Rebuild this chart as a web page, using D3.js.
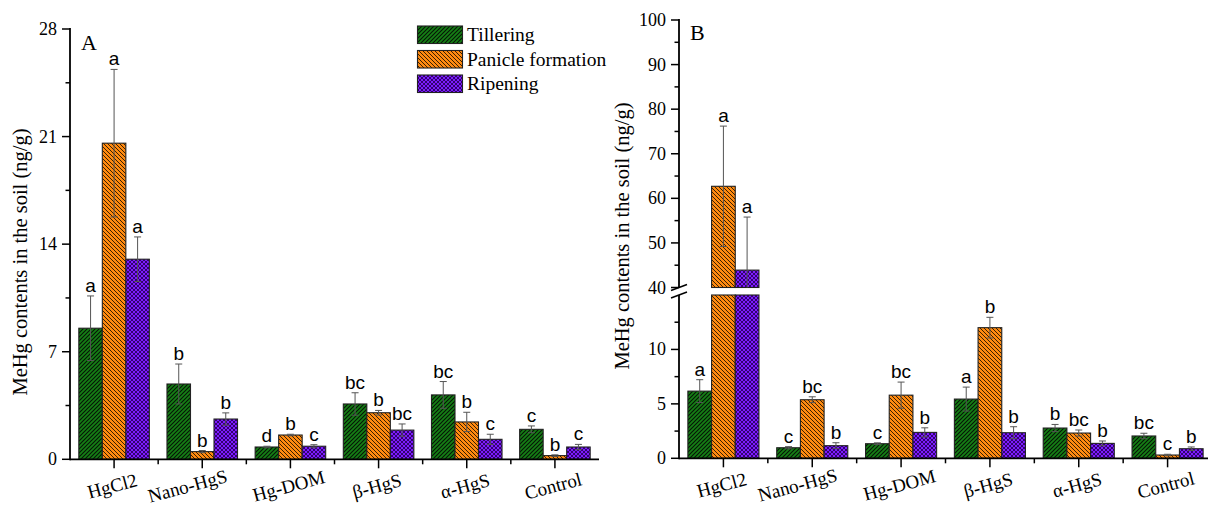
<!DOCTYPE html>
<html><head><meta charset="utf-8">
<script src="https://cdn.jsdelivr.net/npm/d3@7"></script>
<style>
body{margin:0;background:#fff;}
svg{display:block;}
.serif{font-family:"Liberation Serif","Times New Roman",serif;}
.sans{font-family:"Liberation Sans",Arial,sans-serif;}
</style></head>
<body><svg id="c" width="1208" height="507"></svg>
<script>
const categories = ["HgCl2","Nano-HgS","Hg-DOM","β-HgS","α-HgS","Control"];
const seriesNames = ["Tillering","Panicle formation","Ripening"];

// Panel A values (ng/g)
const aTillering = [8.53, 4.9, 0.8, 3.6, 4.19, 1.95];
const aPanicle   = [20.57, 0.5, 1.58, 3.03, 2.43, 0.24];
const aRipening  = [13.02, 2.62, 0.85, 1.9, 1.3, 0.8];
const aTilleringErr = [2.1, 1.3, 0.05, 0.73, 0.87, 0.22];
const aPanicleErr   = [4.8, 0.07, 0.05, 0.15, 0.63, 0.05];
const aRipeningErr  = [1.45, 0.4, 0.1, 0.4, 0.33, 0.17];
const aTilleringLet = ["a","b","d","bc","bc","c"];
const aPanicleLet   = ["a","b","b","b","b","b"];
const aRipeningLet  = ["a","b","c","bc","c","c"];

// Panel B values (ng/g)
const bTillering = [6.17, 0.97, 1.34, 5.44, 2.78, 2.05];
const bPanicle   = [62.7, 5.38, 5.8, 12.0, 2.32, 0.3];
const bRipening  = [43.9, 1.16, 2.38, 2.35, 1.37, 0.88];
const bTilleringErr = [1.05, 0.1, 0.08, 1.1, 0.33, 0.25];
const bPanicleErr   = [13.5, 0.27, 1.2, 0.95, 0.28, 0.07];
const bRipeningErr  = [11.9, 0.27, 0.42, 0.55, 0.22, 0.16];
const bTilleringLet = ["a","c","c","a","b","bc"];
const bPanicleLet   = ["a","bc","bc","b","bc","c"];
const bRipeningLet  = ["a","b","b","b","b","b"];

const aMajorTicks = [0,7,14,21,28];
const aMinorTicks = [3.5,10.5,17.5,24.5];
const bLowMajor = [0,5,10];
const bLowMinor = [2.5,7.5,12.5];
const bUpMajor = [40,50,60,70,80,90,100];
const bUpMinor = [45,55,65,75,85,95];

const svg = d3.select("#c");
const defs = svg.append("defs");
// patterns
const pG = defs.append("pattern").attr("id","pG").attr("patternUnits","userSpaceOnUse").attr("width",4).attr("height",4);
pG.append("rect").attr("width",4).attr("height",4).attr("fill","#158015");
pG.append("path").attr("d","M-1,1 l2,-2 M0,4 l4,-4 M3,5 l2,-2").attr("stroke","#051505").attr("stroke-width",1.15);
const pO = defs.append("pattern").attr("id","pO").attr("patternUnits","userSpaceOnUse").attr("width",4).attr("height",4);
pO.append("rect").attr("width",4).attr("height",4).attr("fill","#ff8a10");
pO.append("path").attr("d","M-1,3 l2,2 M0,0 l4,4 M3,-1 l2,2").attr("stroke","#3a2000").attr("stroke-width",1);
const pP = defs.append("pattern").attr("id","pP").attr("patternUnits","userSpaceOnUse").attr("width",4).attr("height",4);
pP.append("rect").attr("width",4).attr("height",4).attr("fill","#7d1cff");
pP.append("path").attr("d","M0,0 l4,4 M4,0 l-4,4").attr("stroke","#2a0060").attr("stroke-width",0.9);
const fills = ["url(#pG)","url(#pO)","url(#pP)"];

function drawPanel(opts){
  const g = svg.append("g");
  const x = d3.scaleBand().domain(categories).range([opts.x0, opts.x1]).paddingInner(0).paddingOuter(0);
  const inner = d3.scaleBand().domain(seriesNames).range([0, x.bandwidth()*0.8]);
  const off = x.bandwidth()*0.1;
  const vals = opts.values, errs = opts.errs, lets = opts.letters;
  const yBase = opts.yLow(0);
  // bars
  seriesNames.forEach((s,si)=>{
    categories.forEach((c,ci)=>{
      const v = vals[si][ci];
      const bx = x(c)+off+inner(s), bw = inner.bandwidth();
      if(opts.yUp && v > opts.lowMax){
        g.append("rect").attr("x",bx).attr("y",opts.yLow(opts.lowMax)).attr("width",bw).attr("height",yBase-opts.yLow(opts.lowMax))
          .attr("fill",fills[si]).attr("stroke","#222").attr("stroke-width",1.1);
        g.append("rect").attr("x",bx).attr("y",opts.yUp(v)).attr("width",bw).attr("height",opts.yUp(opts.upMin)-opts.yUp(v))
          .attr("fill",fills[si]).attr("stroke","#222").attr("stroke-width",1.1);
      } else {
        g.append("rect").attr("x",bx).attr("y",opts.yLow(v)).attr("width",bw).attr("height",yBase-opts.yLow(v))
          .attr("fill",fills[si]).attr("stroke","#222").attr("stroke-width",1.1);
      }
    });
  });
  // error bars & letters
  const yv = v => (opts.yUp && v > opts.lowMax) ? opts.yUp(Math.max(v,opts.upMin)) : opts.yLow(v);
  seriesNames.forEach((s,si)=>{
    categories.forEach((c,ci)=>{
      const v = vals[si][ci], e = errs[si][ci];
      const cx = x(c)+off+inner(s)+inner.bandwidth()/2;
      let hi = v+e, lo = v-e;
      let yHi = yv(hi), yLo;
      if(opts.yUp && v > opts.lowMax){ yLo = opts.yUp(Math.max(lo, opts.upMin)); }
      else yLo = opts.yLow(lo);
      g.append("line").attr("x1",cx).attr("x2",cx).attr("y1",yHi).attr("y2",yLo).attr("stroke","#555").attr("stroke-width",1);
      g.append("line").attr("x1",cx-3.5).attr("x2",cx+3.5).attr("y1",yHi).attr("y2",yHi).attr("stroke","#555").attr("stroke-width",1);
      if(!(opts.yUp && v > opts.lowMax && lo < opts.upMin))
        g.append("line").attr("x1",cx-3.5).attr("x2",cx+3.5).attr("y1",yLo).attr("y2",yLo).attr("stroke","#555").attr("stroke-width",1);
      g.append("text").attr("class","sans").attr("x",cx).attr("y",Math.min(yHi, yv(v))-4)
        .attr("text-anchor","middle").attr("font-size",19).attr("fill","#000").text(lets[si][ci]);
    });
  });
  // x axis
  const xa = g.append("g");
  xa.append("line").attr("x1",opts.x0).attr("x2",opts.x1).attr("y1",yBase).attr("y2",yBase).attr("stroke","#000").attr("stroke-width",1.8);
  categories.forEach((c,i)=>{
    const cx = x(c)+x.bandwidth()/2;
    xa.append("line").attr("x1",cx).attr("x2",cx).attr("y1",yBase).attr("y2",yBase+9).attr("stroke","#000").attr("stroke-width",1.5);
    if(i>0) xa.append("line").attr("x1",x(c)).attr("x2",x(c)).attr("y1",yBase).attr("y2",yBase+5).attr("stroke","#000").attr("stroke-width",1.5);
    const dx = c==="Nano-HgS" ? -13 : 0;
    xa.append("text").attr("class","serif").attr("font-size",19).attr("text-anchor","middle")
      .attr("transform",`translate(${cx+dx},${yBase+33}) rotate(-15)`).text(c);
  });
  // y axis
  const ya = g.append("g");
  function ySeg(scale, major, minor, yTop, yBot){
    ya.append("line").attr("x1",opts.x0).attr("x2",opts.x0).attr("y1",yTop).attr("y2",yBot).attr("stroke","#000").attr("stroke-width",1.8);
    major.forEach(t=>{
      ya.append("line").attr("x1",opts.x0-8).attr("x2",opts.x0).attr("y1",scale(t)).attr("y2",scale(t)).attr("stroke","#000").attr("stroke-width",1.5);
      ya.append("text").attr("class","serif").attr("font-size",18).attr("text-anchor","end").attr("x",opts.x0-13).attr("y",scale(t)+6).text(t);
    });
    minor.forEach(t=>{
      ya.append("line").attr("x1",opts.x0-4.5).attr("x2",opts.x0).attr("y1",scale(t)).attr("y2",scale(t)).attr("stroke","#000").attr("stroke-width",1.5);
    });
  }
  if(opts.yUp){
    ySeg(opts.yLow, opts.lowMajor, opts.lowMinor, opts.yLow(opts.lowMax), yBase+0.9);
    ySeg(opts.yUp, opts.upMajor, opts.upMinor, opts.yUp(opts.upMax)-0.9, opts.yUp(opts.upMin));
    const yb1 = opts.yUp(opts.upMin), yb2 = opts.yLow(opts.lowMax);
    [yb1, yb2].forEach(yy=>{
      ya.append("line").attr("x1",opts.x0-8).attr("x2",opts.x0+8).attr("y1",yy+3).attr("y2",yy-3).attr("stroke","#000").attr("stroke-width",1.6);
    });
  } else {
    ySeg(opts.yLow, opts.lowMajor, opts.lowMinor, opts.yLow(opts.lowMax)-0.9, yBase+0.9);
  }
  g.append("text").attr("class","serif").attr("font-size",20.5).attr("text-anchor","middle")
    .attr("transform",`translate(${opts.titleX},${opts.titleY}) rotate(-90)`).text("MeHg contents in the soil (ng/g)");
  g.append("text").attr("class","serif").attr("font-size",22).attr("x",opts.x0+11).attr("y",opts.labelY).text(opts.label);
}

drawPanel({
  x0:70, x1:599,
  yLow: d3.scaleLinear().domain([0,28]).range([459.3,29]),
  lowMax:28, lowMajor:aMajorTicks, lowMinor:aMinorTicks,
  values:[aTillering,aPanicle,aRipening], errs:[aTilleringErr,aPanicleErr,aRipeningErr],
  letters:[aTilleringLet,aPanicleLet,aRipeningLet],
  titleX:27, titleY:262, label:"A", labelY:50
});
drawPanel({
  x0:679, x1:1212,
  yLow: d3.scaleLinear().domain([0,15]).range([458.3,295]),
  yUp: d3.scaleLinear().domain([40,100]).range([287.5,20]),
  lowMax:15, upMin:40, upMax:100,
  lowMajor:bLowMajor, lowMinor:bLowMinor, upMajor:bUpMajor, upMinor:bUpMinor,
  values:[bTillering,bPanicle,bRipening], errs:[bTilleringErr,bPanicleErr,bRipeningErr],
  letters:[bTilleringLet,bPanicleLet,bRipeningLet],
  titleX:629, titleY:236, label:"B", labelY:40
});

// legend
const lg = svg.append("g");
seriesNames.forEach((s,i)=>{
  const yy = 26 + i*24.5;
  lg.append("rect").attr("x",417.5).attr("y",yy).attr("width",45).attr("height",17.5).attr("fill",fills[i]).attr("stroke","#222").attr("stroke-width",1.1);
  lg.append("text").attr("class","serif").attr("font-size",19.5).attr("x",467).attr("y",yy+15).text(s);
});
</script></body></html>
